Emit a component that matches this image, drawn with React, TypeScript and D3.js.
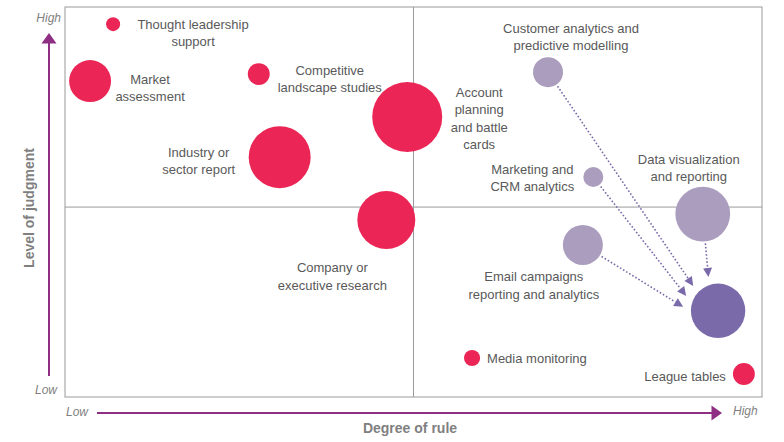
import React from "react";
import * as d3 from "d3";

// ---- data ----
const names = [
  "Thought leadership support",
  "Market assessment",
  "Competitive landscape studies",
  "Industry or sector report",
  "Account planning and battle cards",
  "Company or executive research",
  "Customer analytics and predictive modelling",
  "Marketing and CRM analytics",
  "Data visualization and reporting",
  "Email campaigns reporting and analytics",
  "Target",
  "Media monitoring",
  "League tables",
];
const ruleDegree = [0.69, 0.36, 2.78, 3.08, 4.91, 4.61, 6.93, 7.58, 9.15, 7.43, 9.37, 5.84, 9.74];
const judgmentLevel = [9.56, 8.1, 8.28, 6.15, 7.18, 4.54, 8.33, 5.64, 4.69, 3.9, 2.21, 1.0, 0.59];
const sizes = [4.9, 44, 12, 96, 122.5, 84, 22.5, 10, 75, 40, 74, 6.5, 12];
const groups = ["red", "red", "red", "red", "red", "red", "light", "light", "light", "light", "dark", "red", "red"];
const labelLines = [
  ["Thought leadership", "support"],
  ["Market", "assessment"],
  ["Competitive", "landscape studies"],
  ["Industry or", "sector report"],
  ["Account", "planning", "and battle", "cards"],
  ["Company or", "executive research"],
  ["Customer analytics and", "predictive modelling"],
  ["Marketing and", "CRM analytics"],
  ["Data visualization", "and reporting"],
  ["Email campaigns", "reporting and analytics"],
  [],
  ["Media monitoring"],
  ["League tables"],
];
const arrowSources = [6, 7, 8, 9];
const arrowTarget = 10;
const xDivider = 5;
const yDivider = 4.87;
const axisLow = "Low";
const axisHigh = "High";
const xTitle = "Degree of rule";
const yTitle = "Level of judgment";

// ---- layout / style ----
const W = 784;
const H = 442;
const box = { left: 65, top: 7, right: 762, bottom: 397 };
const colors: Record<string, string> = { red: "#EB2555", light: "#AA9DBE", dark: "#7B6AAA" };
const textColor = "#595959";
const axisPurple = "#8E2F83";
const labelPos = [
  { dx: 80, dy: 0, anchor: "middle" },
  { dx: 60, dy: -2, anchor: "middle" },
  { dx: 71, dy: -4, anchor: "middle" },
  { dx: -81, dy: -5, anchor: "middle" },
  { dx: 72, dy: -25, anchor: "middle" },
  { dx: -54, dy: 48, anchor: "middle" },
  { dx: 23, dy: -44, anchor: "middle" },
  { dx: -61, dy: -8, anchor: "middle" },
  { dx: -14, dy: -55, anchor: "middle" },
  { dx: -49, dy: 32, anchor: "middle" },
  { dx: 0, dy: 0, anchor: "middle" },
  { dx: 15, dy: 0, anchor: "start" },
  { dx: -18, dy: 2, anchor: "end" },
];
const arrowAngles = [225, 205, 254, 186.5];
const lineH = 17.6;

export default function App() {
  const x = d3.scaleLinear().domain([0, 10]).range([box.left, box.right]);
  const y = d3.scaleLinear().domain([0, 10]).range([box.bottom, box.top]);
  const r = d3.scaleSqrt().domain([0, 122.5]).range([0, 35]);

  const tx = x(ruleDegree[arrowTarget]);
  const ty = y(judgmentLevel[arrowTarget]);
  const tr = r(sizes[arrowTarget]);

  const arrows = arrowSources.map((s, i) => {
    const a = (arrowAngles[i] * Math.PI) / 180;
    const ex = tx + (tr + 8) * Math.cos(a);
    const ey = ty + (tr + 8) * Math.sin(a);
    const sx0 = x(ruleDegree[s]);
    const sy0 = y(judgmentLevel[s]);
    const dx = ex - sx0;
    const dy = ey - sy0;
    const len = Math.hypot(dx, dy);
    const ux = dx / len;
    const uy = dy / len;
    const sr = r(sizes[s]) + 2;
    const sx = sx0 + ux * sr;
    const sy = sy0 + uy * sr;
    const headLen = 9;
    const headW = 4.5;
    const bx = ex - ux * headLen;
    const by = ey - uy * headLen;
    const head = `M${ex},${ey}L${bx - uy * headW},${by + ux * headW}L${bx + uy * headW},${by - ux * headW}Z`;
    return { sx, sy, bx, by, head };
  });

  const midX = x(xDivider);
  const midY = y(yDivider);

  return (
    <svg
      width={W}
      height={H}
      style={{ position: "absolute", left: 0, top: 0, background: "#fff" }}
      fontFamily="'Liberation Sans', Arial, sans-serif"
    >
      <rect x={0} y={0} width={W} height={H} fill="#fff" />
      {/* quadrant box */}
      <rect
        x={box.left}
        y={box.top}
        width={box.right - box.left}
        height={box.bottom - box.top}
        fill="none"
        stroke="#9a9a9a"
        strokeWidth={1}
      />
      <line x1={midX} x2={midX} y1={box.top} y2={box.bottom} stroke="#9a9a9a" strokeWidth={1} />
      <line x1={box.left} x2={box.right} y1={midY} y2={midY} stroke="#9a9a9a" strokeWidth={1} />

      {/* axis arrows */}
      <line x1={49} x2={49} y1={376} y2={42} stroke={axisPurple} strokeWidth={2} />
      <path d="M49,33L41.5,43.5L56.5,43.5Z" fill={axisPurple} />
      <line x1={97} x2={713} y1={413} y2={413} stroke={axisPurple} strokeWidth={2} />
      <path d="M722,413L711.5,405.5L711.5,420.5Z" fill={axisPurple} />

      {/* axis texts */}
      <g fill="#7f7f7f" fontStyle="italic" fontSize={12}>
        <text x={61} y={18} dy="0.35em" textAnchor="end">{axisHigh}</text>
        <text x={57} y={390} dy="0.35em" textAnchor="end">{axisLow}</text>
        <text x={66} y={412} dy="0.35em" textAnchor="start">{axisLow}</text>
        <text x={733} y={411} dy="0.35em" textAnchor="start">{axisHigh}</text>
      </g>
      <text x={410} y={428} dy="0.35em" textAnchor="middle" fontWeight="bold" fontSize={14} fill="#7f7f7f">
        {xTitle}
      </text>
      <text
        transform="translate(29,208) rotate(-90)"
        dy="0.35em"
        textAnchor="middle"
        fontWeight="bold"
        fontSize={14}
        fill="#7f7f7f"
      >
        {yTitle}
      </text>

      {/* arrows */}
      {arrows.map((a, i) => (
        <g key={"ar" + i}>
          <line
            x1={a.sx}
            y1={a.sy}
            x2={a.bx}
            y2={a.by}
            stroke={colors.dark}
            strokeWidth={1.6}
            strokeDasharray="1.6 2"
          />
          <path d={a.head} fill={colors.dark} />
        </g>
      ))}

      {/* bubbles */}
      {names.map((n, i) => (
        <circle key={n} cx={x(ruleDegree[i])} cy={y(judgmentLevel[i])} r={r(sizes[i])} fill={colors[groups[i]]} />
      ))}

      {/* labels */}
      <g fill={textColor} fontSize={13}>
        {names.map((n, i) => {
          const cx = x(ruleDegree[i]) + labelPos[i].dx;
          const cy = y(judgmentLevel[i]) + labelPos[i].dy;
          return (
            <text key={"l" + n} textAnchor={labelPos[i].anchor as any}>
              {labelLines[i].map((ln, j) => (
                <tspan key={j} x={cx} y={cy + j * lineH} dy="0.35em">
                  {ln}
                </tspan>
              ))}
            </text>
          );
        })}
      </g>
    </svg>
  );
}
